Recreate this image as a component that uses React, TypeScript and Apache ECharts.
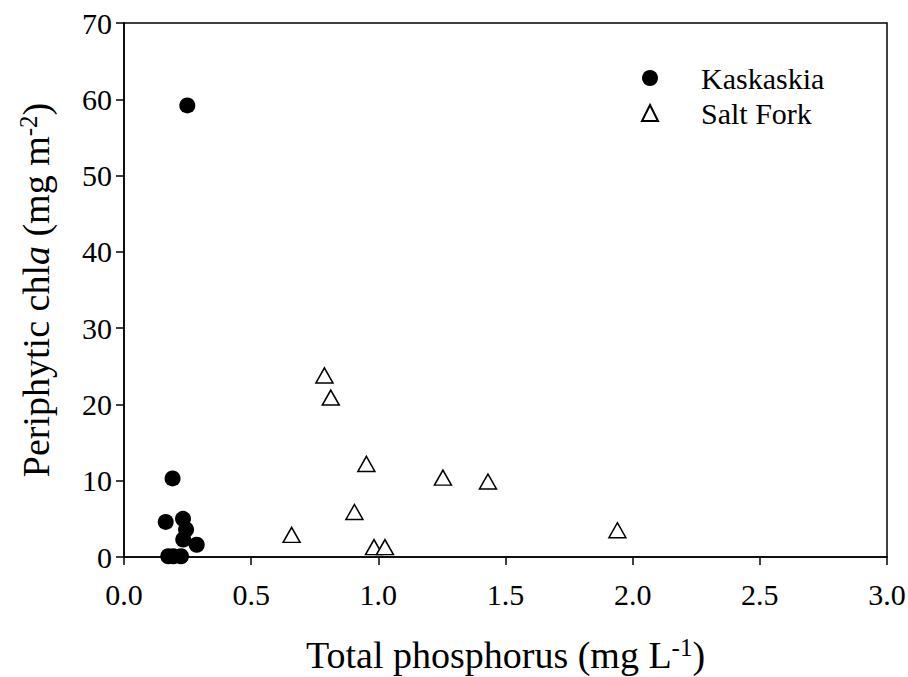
import React, { useEffect, useRef } from "react";
import * as echarts from "echarts";

const kaskaskiaTP = [0.249, 0.191, 0.164, 0.232, 0.244, 0.233, 0.286, 0.174, 0.194, 0.224];
const kaskaskiaChl = [59.2, 10.3, 4.6, 5.0, 3.6, 2.3, 1.6, 0.1, 0.1, 0.1];
const saltForkTP = [0.788, 0.813, 0.953, 1.254, 1.431, 0.906, 0.659, 0.983, 1.026, 1.94];
const saltForkChl = [23.8, 20.9, 12.2, 10.4, 9.9, 5.9, 2.9, 1.3, 1.3, 3.5];
const seriesNames = ["Kaskaskia", "Salt Fork"];

const FONT = "Liberation Serif";

export default function App() {
  const ref = useRef<HTMLDivElement>(null);
  useEffect(() => {
    document.body.style.margin = "0";
    if (!ref.current) return;
    const chart = echarts.init(ref.current, null, { renderer: "svg" });
    chart.setOption({
      animation: false,
      backgroundColor: "#fff",
      textStyle: { fontFamily: FONT, color: "#000" },
      grid: {
        left: 124,
        right: 21,
        top: 23,
        bottom: 120,
        show: true,
        borderColor: "#000",
        borderWidth: 1.5,
        containLabel: false,
        outerBoundsMode: "none",
      },
      legend: {
        orient: "vertical",
        left: 636,
        top: 58,
        itemWidth: 16,
        itemHeight: 16,
        itemGap: 5,
        data: seriesNames,
        formatter: (n: string) => `{t|${n}}`,
        textStyle: {
          fontFamily: FONT,
          fontSize: 30,
          color: "#000",
          lineHeight: 29,
          padding: [0, 0, 0, 38],
          rich: { t: { fontFamily: FONT, fontSize: 30, color: "#000", lineHeight: 29 } },
        },
      },
      xAxis: {
        type: "value",
        min: 0,
        max: 3,
        interval: 0.5,
        name: "Total phosphorus (mg L{sup|-1})",
        nameLocation: "middle",
        nameGap: 78,
        nameTextStyle: {
          fontFamily: FONT,
          fontSize: 38,
          color: "#000",
          lineHeight: 40,
          rich: {
            sup: { fontFamily: FONT, fontSize: 25, color: "#000", verticalAlign: "top", padding: [0, 0, 15, 0] },
          },
        },
        axisLine: { show: true, lineStyle: { color: "#000", width: 1.5 } },
        axisTick: { show: true, inside: false, length: 8, lineStyle: { color: "#000", width: 1.5 } },
        axisLabel: {
          margin: 22,
          fontFamily: FONT,
          fontSize: 30,
          color: "#000",
          formatter: (v: number) => `{t|${v.toFixed(1)}}`,
          rich: { t: { fontFamily: FONT, fontSize: 30, color: "#000" } },
        },
        splitLine: { show: false },
      },
      yAxis: {
        type: "value",
        min: 0,
        max: 70,
        interval: 10,
        name: "Periphytic chl{i|a} (mg m{sup|-2})",
        nameLocation: "middle",
        nameGap: 68,
        nameRotate: 90,
        nameTextStyle: {
          fontFamily: FONT,
          fontSize: 38,
          color: "#000",
          rich: {
            i: { fontFamily: FONT, fontSize: 38, fontStyle: "italic", color: "#000" },
            sup: { fontFamily: FONT, fontSize: 25, color: "#000", verticalAlign: "top", padding: [0, 0, 15, 0] },
          },
        },
        axisLine: { show: true, lineStyle: { color: "#000", width: 1.5 } },
        axisTick: { show: true, inside: false, length: 8, lineStyle: { color: "#000", width: 1.5 } },
        axisLabel: {
          margin: 12,
          fontFamily: FONT,
          fontSize: 30,
          color: "#000",
          formatter: (v: number) => `{t|${v}}`,
          rich: { t: { fontFamily: FONT, fontSize: 30, color: "#000" } },
        },
        splitLine: { show: false },
      },
      series: [
        {
          name: seriesNames[0],
          type: "scatter",
          symbol: "circle",
          symbolSize: 16,
          itemStyle: { color: "#000", opacity: 1 },
          data: kaskaskiaTP.map((x, i) => [x, kaskaskiaChl[i]]),
        },
        {
          name: seriesNames[1],
          type: "scatter",
          symbol: "triangle",
          symbolSize: [17, 15],
          itemStyle: { color: "#fff", borderColor: "#000", borderWidth: 1.5, opacity: 1 },
          data: saltForkTP.map((x, i) => [x, saltForkChl[i]]),
        },
      ],
    });
    return () => chart.dispose();
  }, []);
  return <div ref={ref} style={{ width: 908, height: 677 }} />;
}
